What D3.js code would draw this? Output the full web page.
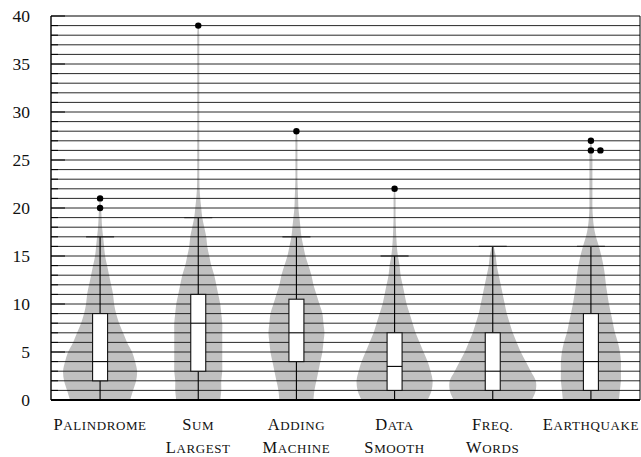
<!DOCTYPE html>
<html lang="en">
<head>
    <meta charset="UTF-8">
    <title>Violin plots</title>
    <script src="https://cdnjs.cloudflare.com/ajax/libs/d3/7.8.5/d3.min.js"></script>
    <style>
        body {
            margin: 0;
            background: #fff;
        }
        svg text {
            font-family: "Liberation Serif", "DejaVu Serif", serif;
            fill: #111;
        }
    </style>
</head>
<body>
    <svg id="chart" width="641" height="457"></svg>

    <script>
        // Categories (two-line labels where the original wraps)
        const categories = ["Palindrome", "Sum Largest", "Adding Machine", "Data Smooth", "Freq. Words", "Earthquake"];
        const labelLines = [["Palindrome"], ["Sum", "Largest"], ["Adding", "Machine"], ["Data", "Smooth"], ["Freq.", "Words"], ["Earthquake"]];

        // Box plot statistics
        const whiskLo = [0, 0, 0, 0, 0, 0];
        const q1 = [2, 3, 4, 1, 1, 1];
        const medians = [4, 8, 7, 3.5, 3, 4];
        const q3 = [9, 11, 10.5, 7, 7, 9];
        const whiskHi = [17, 19, 17, 15, 16, 16];
        const outliers = [[20, 21], [39], [28], [22], [], [26, 27, 26]];

        // Violin density (relative) at y = 0, 1, 2, ...
        const densPalindrome = [30, 33, 36, 37, 35, 32, 27, 23, 19, 16, 14, 13, 11, 9, 7, 5, 4, 3, 2, 1.5, 1, 0.5];
        const densSumLargest = [22, 23, 23, 24, 24, 24, 24, 24, 24, 23, 22, 20, 18, 16, 13, 11, 9, 8, 6, 4, 3, 2, 1.3, 1.1, 1, 1, 1, 1, 1, 1, 1, 1, 1, 1, 1, 1, 1, 1, 1, 0.5];
        const densAdding = [17, 18, 20, 22, 24, 26, 27, 28, 27, 26, 23, 20, 17, 15, 12, 9, 7, 5, 4, 3, 2, 1.7, 1.3, 1, 1, 1, 1, 1, 0.5];
        const densDataSmooth = [33, 37, 38, 36, 33, 29, 25, 21, 18, 15, 12, 10, 8, 6, 5, 3.3, 2.3, 1.7, 1.3, 1, 1, 1, 0.5];
        const densFreqWords = [39, 43, 43, 38, 33, 28, 24, 20, 17, 14, 12, 10, 8, 6, 4, 3, 1];
        const densEarthquake = [28, 29, 30, 30, 30, 29, 27, 24, 22, 20, 18, 16.5, 15, 14, 12.5, 10.5, 8, 5, 3, 2, 1.5, 1.5, 1.5, 1.5, 1.5, 1.5, 1.2, 0.5];
        const densities = [densPalindrome, densSumLargest, densAdding, densDataSmooth, densFreqWords, densEarthquake];

        const yTicks = [0, 5, 10, 15, 20, 25, 30, 35, 40];

        const svg = d3.select("#chart");
        const plotLeft = 51, plotRight = 640, plotTop = 16, plotBottom = 400;

        const x = d3.scaleBand().domain(categories).range([plotLeft, plotRight]).padding(0);
        const y = d3.scaleLinear().domain([0, 40]).range([plotBottom, plotTop]);
        const w = d3.scaleLinear().domain([0, 43]).range([0, 43]);

        const boxW = 15, capW = 28, dotR = 3.2, dotStep = 9.5;

        // violins
        const area = d3.area()
            .y(d => y(d.v))
            .x0(d => d.cx - w(d.d))
            .x1(d => d.cx + w(d.d))
            .curve(d3.curveCatmullRom);

        svg.append("g").selectAll("path")
            .data(categories)
            .enter()
            .append("path")
            .attr("fill", "#c0c0c0")
            .attr("d", (c, i) => {
                const cx = x(c) + x.bandwidth() / 2;
                return area(densities[i].map((d, v) => ({ v: v, d: d, cx: cx })));
            });

        // horizontal grid at every unit
        const grid = d3.range(1, 40);
        svg.append("g").selectAll("line")
            .data(grid)
            .enter()
            .append("line")
            .attr("x1", plotLeft).attr("x2", plotRight)
            .attr("y1", d => y(d)).attr("y2", d => y(d))
            .attr("stroke", "#111")
            .attr("stroke-width", 0.9);

        // left axis ticks (minor + major) pointing inward
        svg.append("g").selectAll("line")
            .data(d3.range(0, 41))
            .enter()
            .append("line")
            .attr("x1", plotLeft)
            .attr("x2", d => plotLeft + (d % 5 === 0 ? 14 : 7))
            .attr("y1", d => y(d)).attr("y2", d => y(d))
            .attr("stroke", "#000")
            .attr("stroke-width", 1);

        // frame
        svg.append("line").attr("x1", plotLeft).attr("x2", plotRight).attr("y1", plotTop).attr("y2", plotTop)
            .attr("stroke", "#000").attr("stroke-width", 1.2);
        svg.append("line").attr("x1", plotRight).attr("x2", plotRight).attr("y1", plotTop).attr("y2", plotBottom)
            .attr("stroke", "#000").attr("stroke-width", 1);
        svg.append("line").attr("x1", plotLeft).attr("x2", plotLeft).attr("y1", plotTop).attr("y2", plotBottom)
            .attr("stroke", "#000").attr("stroke-width", 1.4);

        // whiskers, caps, boxes, medians
        const boxes = svg.append("g").selectAll("g")
            .data(categories)
            .enter()
            .append("g")
            .attr("transform", c => `translate(${x(c) + x.bandwidth() / 2},0)`);

        boxes.append("line")
            .attr("y1", (c, i) => y(whiskLo[i])).attr("y2", (c, i) => y(whiskHi[i]))
            .attr("stroke", "#000").attr("stroke-width", 1.1);

        boxes.append("line")
            .attr("x1", -capW / 2).attr("x2", capW / 2)
            .attr("y1", (c, i) => y(whiskHi[i])).attr("y2", (c, i) => y(whiskHi[i]))
            .attr("stroke", "#222").attr("stroke-width", 1.2);

        boxes.append("rect")
            .attr("x", -boxW / 2).attr("width", boxW)
            .attr("y", (c, i) => y(q3[i]))
            .attr("height", (c, i) => y(q1[i]) - y(q3[i]))
            .attr("fill", "#fff")
            .attr("stroke", "#111").attr("stroke-width", 1.1);

        boxes.append("line")
            .attr("x1", -boxW / 2).attr("x2", boxW / 2)
            .attr("y1", (c, i) => y(medians[i])).attr("y2", (c, i) => y(medians[i]))
            .attr("stroke", "#000").attr("stroke-width", 1.1);

        // outliers, repeated values are set side by side
        boxes.each(function (c, i) {
            const seen = {};
            const pts = outliers[i].map(v => {
                seen[v] = (seen[v] || 0) + 1;
                return { v: v, k: seen[v] - 1 };
            });
            d3.select(this).selectAll("circle")
                .data(pts)
                .enter()
                .append("circle")
                .attr("cx", d => d.k * dotStep)
                .attr("cy", d => y(d.v))
                .attr("r", dotR)
                .attr("fill", "#000");
        });

        // bottom axis line (heavier)
        svg.append("line").attr("x1", plotLeft).attr("x2", plotRight).attr("y1", plotBottom).attr("y2", plotBottom)
            .attr("stroke", "#000").attr("stroke-width", 2);

        // y tick labels
        svg.append("g").selectAll("text")
            .data(yTicks)
            .enter()
            .append("text")
            .attr("x", 30)
            .attr("y", d => y(d) + 6)
            .attr("text-anchor", "end")
            .attr("font-size", 17.5)
            .text(d => d);

        // category labels in small caps
        const labels = svg.append("g").selectAll("g")
            .data(categories)
            .enter()
            .append("g");

        labels.each(function (c, i) {
            const cx = x(c) + x.bandwidth() / 2;
            labelLines[i].forEach((word, j) => {
                const t = d3.select(this).append("text")
                    .attr("x", cx)
                    .attr("y", 430 + j * 23)
                    .attr("text-anchor", "middle")
                    .attr("letter-spacing", 0.6);
                t.append("tspan").attr("font-size", 16.5).text(word[0]);
                t.append("tspan").attr("font-size", 13).text(word.slice(1).toUpperCase());
            });
        });
    </script>
</body>
</html>
